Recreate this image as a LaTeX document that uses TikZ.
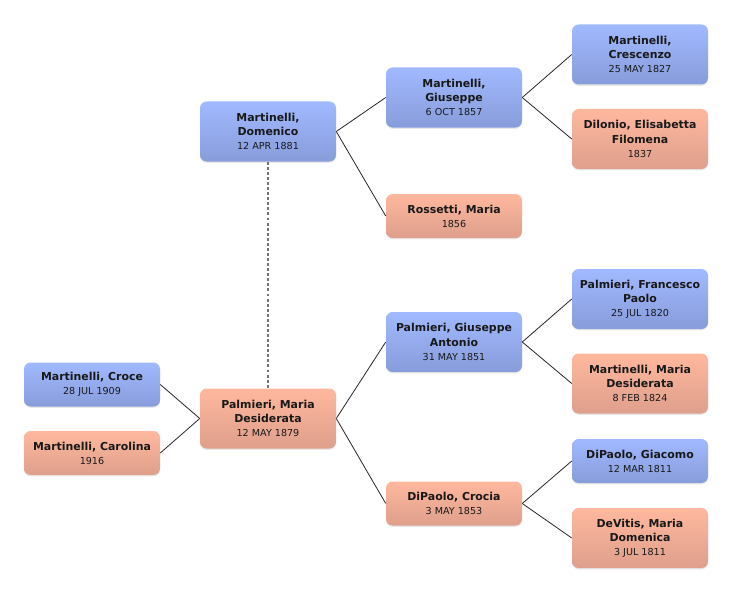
\documentclass[tikz,border=0pt]{standalone}
\usepackage{fontspec}
\setmainfont{DejaVu Sans}
\usepackage{tikz}
\usetikzlibrary{shadows}
\usepackage{xcolor}
\definecolor{maletop}{HTML}{A1B9FF}
\definecolor{malebot}{HTML}{879CDA}
\definecolor{femaletop}{HTML}{FFB89E}
\definecolor{femalebot}{HTML}{DE9F8C}
\newcommand{\bdate}[1]{{\fontsize{7.2}{10.6}\selectfont\mdseries #1}}
\tikzset{%
	every person/.style={
		rounded corners=5pt,
		minimum width=102pt,
		minimum height=33pt,
		inner sep=0pt,
		align=center,
		text=black!90,
		font=\fontsize{8.2}{10.6}\selectfont\bfseries,
		drop shadow={shadow xshift=0pt, shadow yshift=-1pt, opacity=0.18}
	},
	male/.style={
		every person,
		top color=maletop,
		bottom color=malebot
	},
	female/.style={
		every person,
		top color=femaletop,
		bottom color=femalebot
	},
	tall/.style={minimum height=45pt},
	link/.style={draw=black!85, line width=0.6pt},
}

\begin{document}
\begin{tikzpicture}[x=0.75pt, y=-0.75pt]
			\useasboundingbox (0,0) rectangle (732,592);
			
			% Children
			\node[male] (croce) at (92,384.5) {Martinelli, Croce\\\bdate{28 JUL 1909}};
			\node[female] (carolina) at (92,453) {Martinelli, Carolina\\\bdate{1916}};
			
			% Parents
			\node[male, tall] (domenico) at (268,131.5) {Martinelli,\\Domenico\\\bdate{12 APR 1881}};
			\node[female, tall] (pmd) at (268,418.5) {Palmieri, Maria\\Desiderata\\\bdate{12 MAY 1879}};
			
			% Grandparents
			\node[male, tall] (giuseppe) at (454,97.5) {Martinelli,\\Giuseppe\\\bdate{6 OCT 1857}};
			\node[female] (rossetti) at (454,216) {Rossetti, Maria\\\bdate{1856}};
			\node[male, tall] (pga) at (454,342) {Palmieri, Giuseppe\\Antonio\\\bdate{31 MAY 1851}};
			\node[female] (crocia) at (454,503.5) {DiPaolo, Crocia\\\bdate{3 MAY 1853}};
			
			% Great-grandparents
			\node[male, tall] (crescenzo) at (640,54.5) {Martinelli,\\Crescenzo\\\bdate{25 MAY 1827}};
			\node[female, tall] (dilonio) at (640,139) {Dilonio, Elisabetta\\Filomena\\\bdate{1837}};
			\node[male, tall] (francesco) at (640,299) {Palmieri, Francesco\\Paolo\\\bdate{25 JUL 1820}};
			\node[female, tall] (mmd) at (640,383.5) {Martinelli, Maria\\Desiderata\\\bdate{8 FEB 1824}};
			\node[male] (giacomo) at (640,461) {DiPaolo, Giacomo\\\bdate{12 MAR 1811}};
			\node[female, tall] (devitis) at (640,538) {DeVitis, Maria\\Domenica\\\bdate{3 JUL 1811}};
			
			% Draw the links
			\draw[link] (croce.east) -- (pmd.west);
			\draw[link] (carolina.east) -- (pmd.west);
			\draw[link] (domenico.east) -- (giuseppe.west);
			\draw[link] (domenico.east) -- (rossetti.west);
			\draw[link] (pmd.east) -- (pga.west);
			\draw[link] (pmd.east) -- (crocia.west);
			\draw[link] (giuseppe.east) -- (crescenzo.west);
			\draw[link] (giuseppe.east) -- (dilonio.west);
			\draw[link] (pga.east) -- (francesco.west);
			\draw[link] (pga.east) -- (mmd.west);
			\draw[link] (crocia.east) -- (giacomo.west);
			\draw[link] (crocia.east) -- (devitis.west);
			
			% Draw the marriage line
			\draw[black!55, line width=1.1pt, dash pattern=on 2.2pt off 1.6pt] (domenico.south) -- (pmd.north);
			
		\end{tikzpicture}
\end{document}
